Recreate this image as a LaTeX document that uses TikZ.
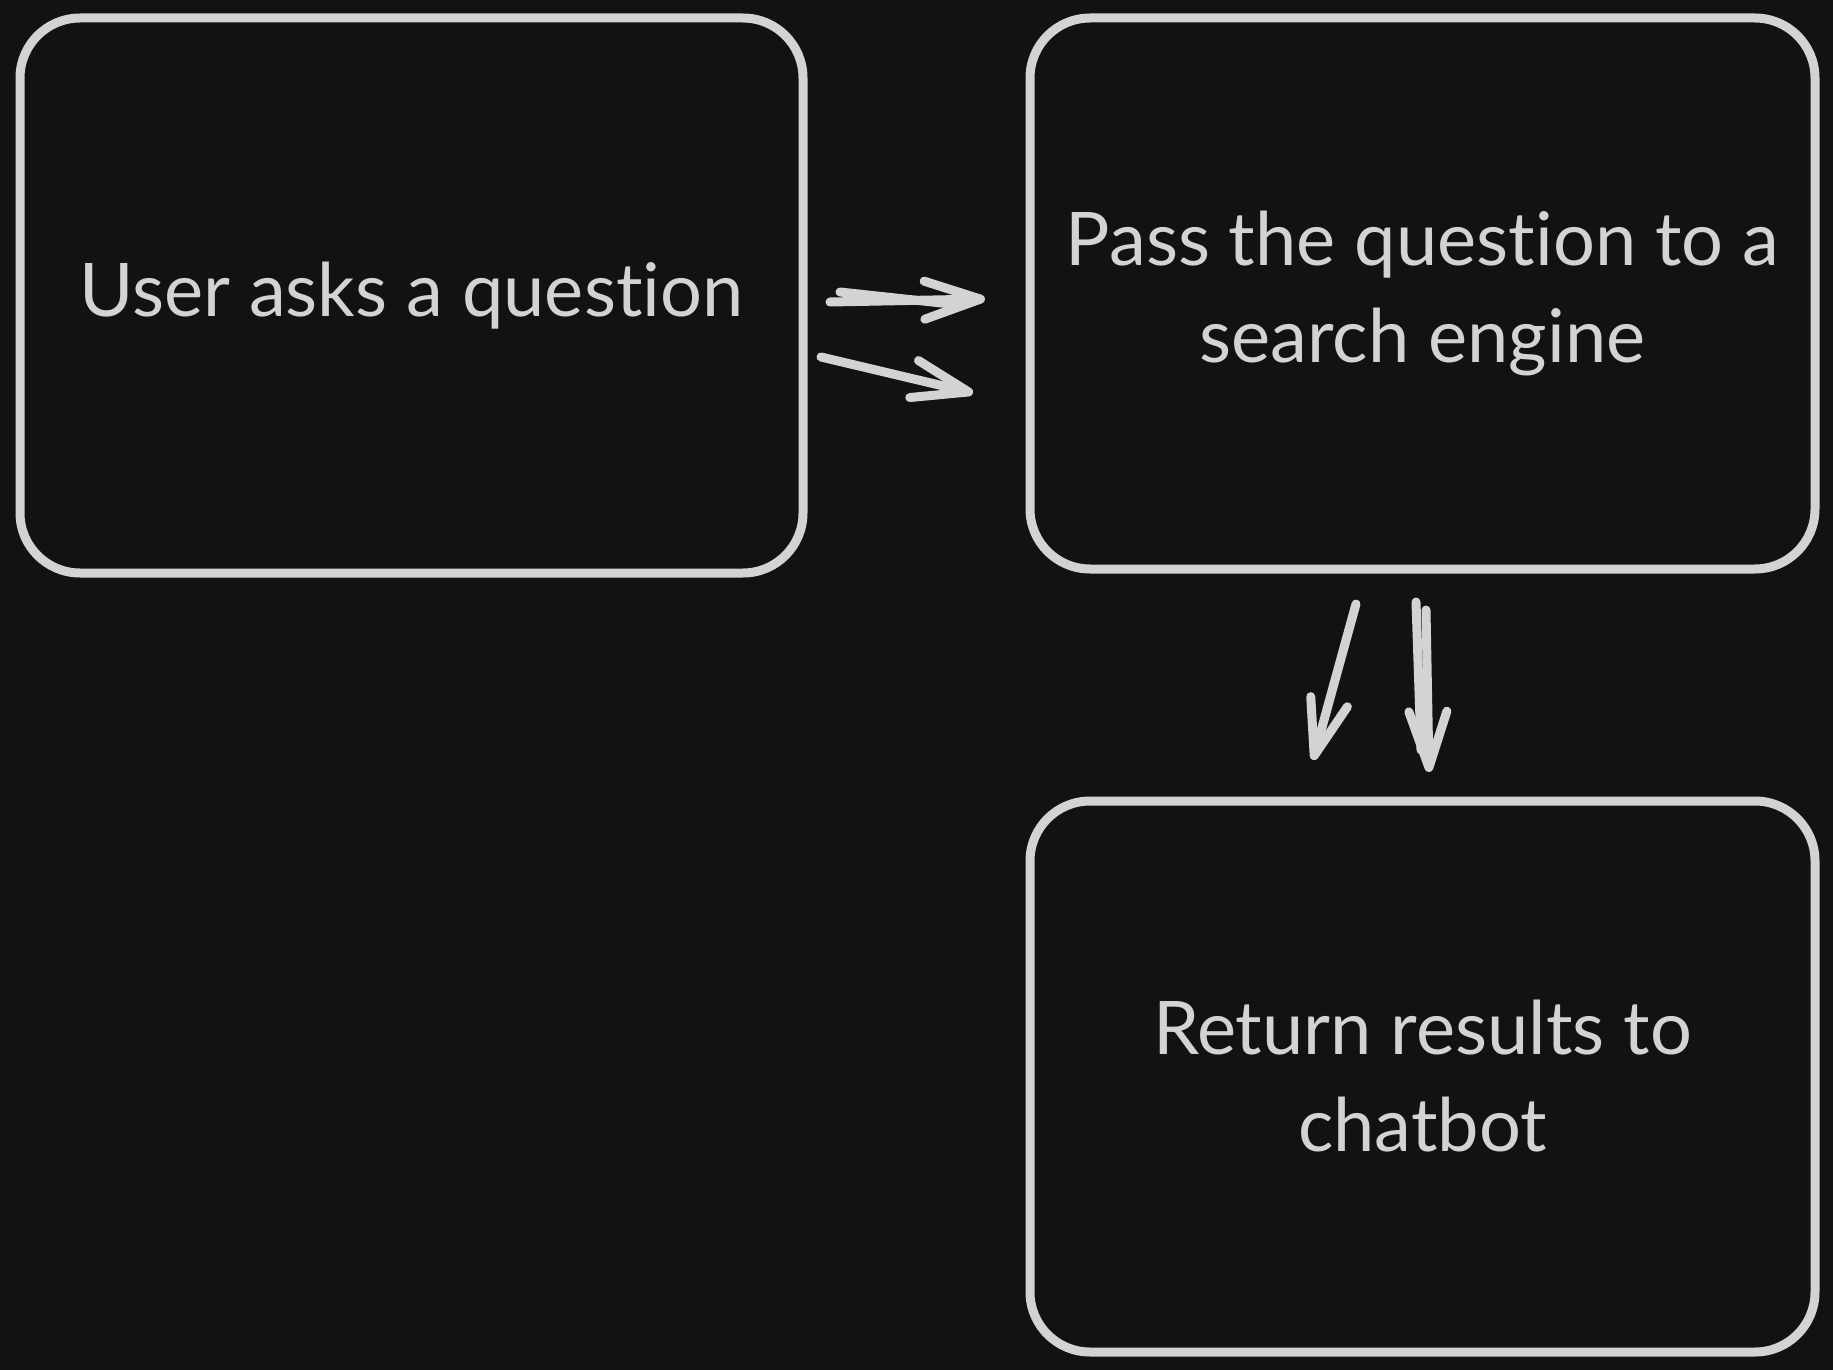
\documentclass[tikz,border=0pt]{standalone}
\usepackage{fontspec}
\setmainfont{Lato}[Ligatures={NoCommon,NoRare,NoDiscretionary}]
\usetikzlibrary{arrows.meta}
\definecolor{bgc}{HTML}{121212}
\definecolor{inkc}{HTML}{D3D3D3}
\tikzset{
  boxnode/.style={draw=inkc, line width=4.5pt, rounded corners=30pt, text=inkc,
    align=center, inner sep=0pt, font=\fontsize{37}{48.5}\selectfont},
  inkline/.style={draw=inkc, line width=4.5pt, line cap=round, line join=round},
  flowarrow/.style={inkline,
    -{Straight Barb[length=28pt, width=19pt, line cap=round, line join=round]}}
}
\begin{document}
\begin{tikzpicture}[x=0.5pt, y=-0.5pt]
\fill[bgc] (0,0) rectangle (1833,1370);
\useasboundingbox (0,0) rectangle (1833,1370);

\node[boxnode, minimum width=391.5pt, minimum height=277.5pt] (ask) at (411.5,295.5) {User asks a question};
\node[boxnode, minimum width=392.5pt, minimum height=275.5pt] (pass) at (1422.5,293.5) {Pass the question to a\\search engine};
\node[boxnode, minimum width=392.5pt, minimum height=275.5pt] (ret) at (1422.5,1076.5) {Return results to\\chatbot};

\coordinate (a1s) at (830,302);
\coordinate (a1e) at (985,299);
\coordinate (a1d) at (960,305);
\coordinate (a2s) at (821,357);
\coordinate (a2e) at (973,393);
\coordinate (b1s) at (1356,604);
\coordinate (b1e) at (1313,760);
\coordinate (b2s) at (1426,610);
\coordinate (b2e) at (1429,772);
\coordinate (b2d) at (1421,750);

\draw[flowarrow] (a1s) -- (a1e);
\draw[inkline] ([xshift=5pt,yshift=5pt]a1s) -- (a1d);
\draw[flowarrow] (a2s) -- (a2e);
\draw[flowarrow] (b1s) -- (b1e);
\draw[flowarrow] (b2s) -- (b2e);
\draw[inkline] ([xshift=-5pt,yshift=4pt]b2s) -- (b2d);
\end{tikzpicture}
\end{document}
